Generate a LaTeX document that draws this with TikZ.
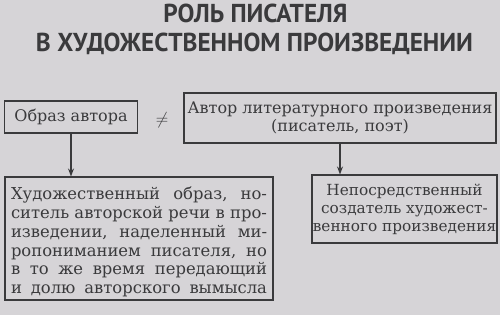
\documentclass[tikz,border=0pt]{standalone}
\usepackage{fontspec}
\setmainfont{DejaVu Serif}
\newfontfamily\titlefont{PT Sans}
\usetikzlibrary{arrows.meta}
\definecolor{bg}{HTML}{D6D4D7}
\definecolor{ink}{HTML}{3A3A3C}
\newcommand{\jline}[1]{\hbox to 256pt{#1}}
\begin{document}
\begin{tikzpicture}[x=1pt,y=-1pt,
  box/.style={draw=ink,line width=1.1pt,inner sep=0pt,text=ink,
    font=\fontsize{16}{18}\selectfont},
  ttl/.style={text=ink,inner sep=0pt,anchor=base},
  conn/.style={draw=ink,line width=1.1pt,-{Stealth[length=8pt,width=6pt]}}]
\fill[bg] (0,0) rectangle (500,315);
\useasboundingbox (0,0) rectangle (500,315);
\node[ttl] (t1) at (255.5,23) {\resizebox{184pt}{18.5pt}{\titlefont\bfseries РОЛЬ ПИСАТЕЛЯ}};
\node[ttl] (t2) at (254.5,52) {\resizebox{437pt}{18.5pt}{\titlefont\bfseries В ХУДОЖЕСТВЕННОМ ПРОИЗВЕДЕНИИ}};
\node[box,minimum width=133pt,minimum height=32pt] (b1) at (71,117) {Образ автора};
\node[box,minimum width=312pt,minimum height=50pt,align=center] (b2) at (340,118) {Автор литературного произведения\\(писатель, поэт)};
\node[text=ink,font=\fontsize{16}{16}\selectfont] (ne) at (162,120) {$\neq$};
\node[box,minimum width=268pt,minimum height=123pt] (b3) at (139,238.5) {};
\node[text=ink,inner sep=0pt,font=\fontsize{16.4}{18.8}\selectfont,align=left] (b3t) at (139,242) {%
\jline{Художественный\hfill образ,\hfill но-}\\
\jline{ситель\hfill авторской\hfill речи\hfill в\hfill про-}\\
\jline{изведении,\hfill наделенный\hfill ми-}\\
\jline{ропониманием\hfill писателя,\hfill но}\\
\jline{в\hfill то\hfill же\hfill время\hfill передающий}\\
\jline{и\hfill долю\hfill авторского\hfill вымысла}};
\node[box,minimum width=185pt,minimum height=68pt,align=center,font=\fontsize{15.3}{18}\selectfont] (b4) at (404.5,209) {Непосредственный\\создатель художест-\\венного произведения};
\draw[conn] (b1.south) -- (b1.south |- b3.north);
\draw[conn] (b2.south) -- (b2.south |- b4.north);
\end{tikzpicture}
\end{document}
